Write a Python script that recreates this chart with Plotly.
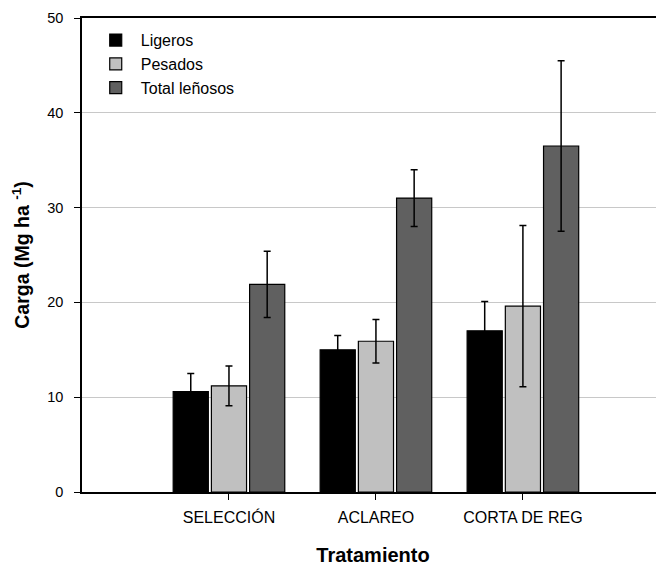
import plotly.graph_objects as go

categories = ["SELECCIÓN", "ACLAREO", "CORTA DE REG"]
cat_pos = [1, 2, 3]
series_names = ["Ligeros", "Pesados", "Total leñosos"]
ligeros = [10.6, 15.0, 17.0]
ligeros_err = [1.9, 1.5, 3.1]
pesados = [11.2, 15.9, 19.6]
pesados_err = [2.1, 2.3, 8.5]
total = [21.9, 31.0, 36.5]
total_err = [3.5, 3.0, 9.0]
colors = ["#000000", "#c0c0c0", "#606060"]

fig = go.Figure()
for name, vals, errs, col in zip(series_names, [ligeros, pesados, total],
                                 [ligeros_err, pesados_err, total_err], colors):
    fig.add_trace(go.Bar(
        x=cat_pos, y=vals, name=name,
        marker=dict(color=col, line=dict(color="#000000", width=1.2)),
        error_y=dict(type="data", array=errs, visible=True, color="#000000",
                     thickness=1.5, width=3.5),
    ))

sans = "Liberation Sans, Arial, sans-serif"
fig.update_layout(
    width=656, height=563,
    margin=dict(l=74, r=0, t=10, b=79),
    paper_bgcolor="white", plot_bgcolor="white",
    barmode="group", bargap=0.22, bargroupgap=0.08,
    font=dict(family=sans, size=13, color="#000000"),
    showlegend=True,
    legend=dict(x=0.015, y=0.989, xanchor="left", yanchor="top",
                bgcolor="rgba(0,0,0,0)", font=dict(family=sans, size=16),
                tracegroupgap=0, itemwidth=40),
    xaxis=dict(range=[0, 3.96], tickmode="array", tickvals=cat_pos,
               ticktext=categories, showline=True, linecolor="#000000",
               linewidth=1.5, mirror=True, ticks="outside", ticklen=6,
               tickcolor="#000000", showgrid=False, zeroline=False,
               automargin=False, ticklabelstandoff=4,
               tickfont=dict(family=sans, size=16),
               title=dict(text="<b>Tratamiento</b>", font=dict(family=sans, size=20), standoff=23)),
    yaxis=dict(range=[0, 50], tickvals=[0, 10, 20, 30, 40, 50],
               showline=True, linecolor="#000000", linewidth=1.5,
               ticks="outside", ticklen=6, tickcolor="#000000",
               showgrid=True, gridcolor="#c8c8c8", gridwidth=1.2,
               zeroline=False, automargin=False, ticklabelstandoff=8,
               tickfont=dict(family=sans, size=14.5),
               title=dict(text="<b>Carga (Mg ha <sup>-1</sup>)</b>", font=dict(family=sans, size=19.5), standoff=12)),
)
fig.write_html("out.html")
